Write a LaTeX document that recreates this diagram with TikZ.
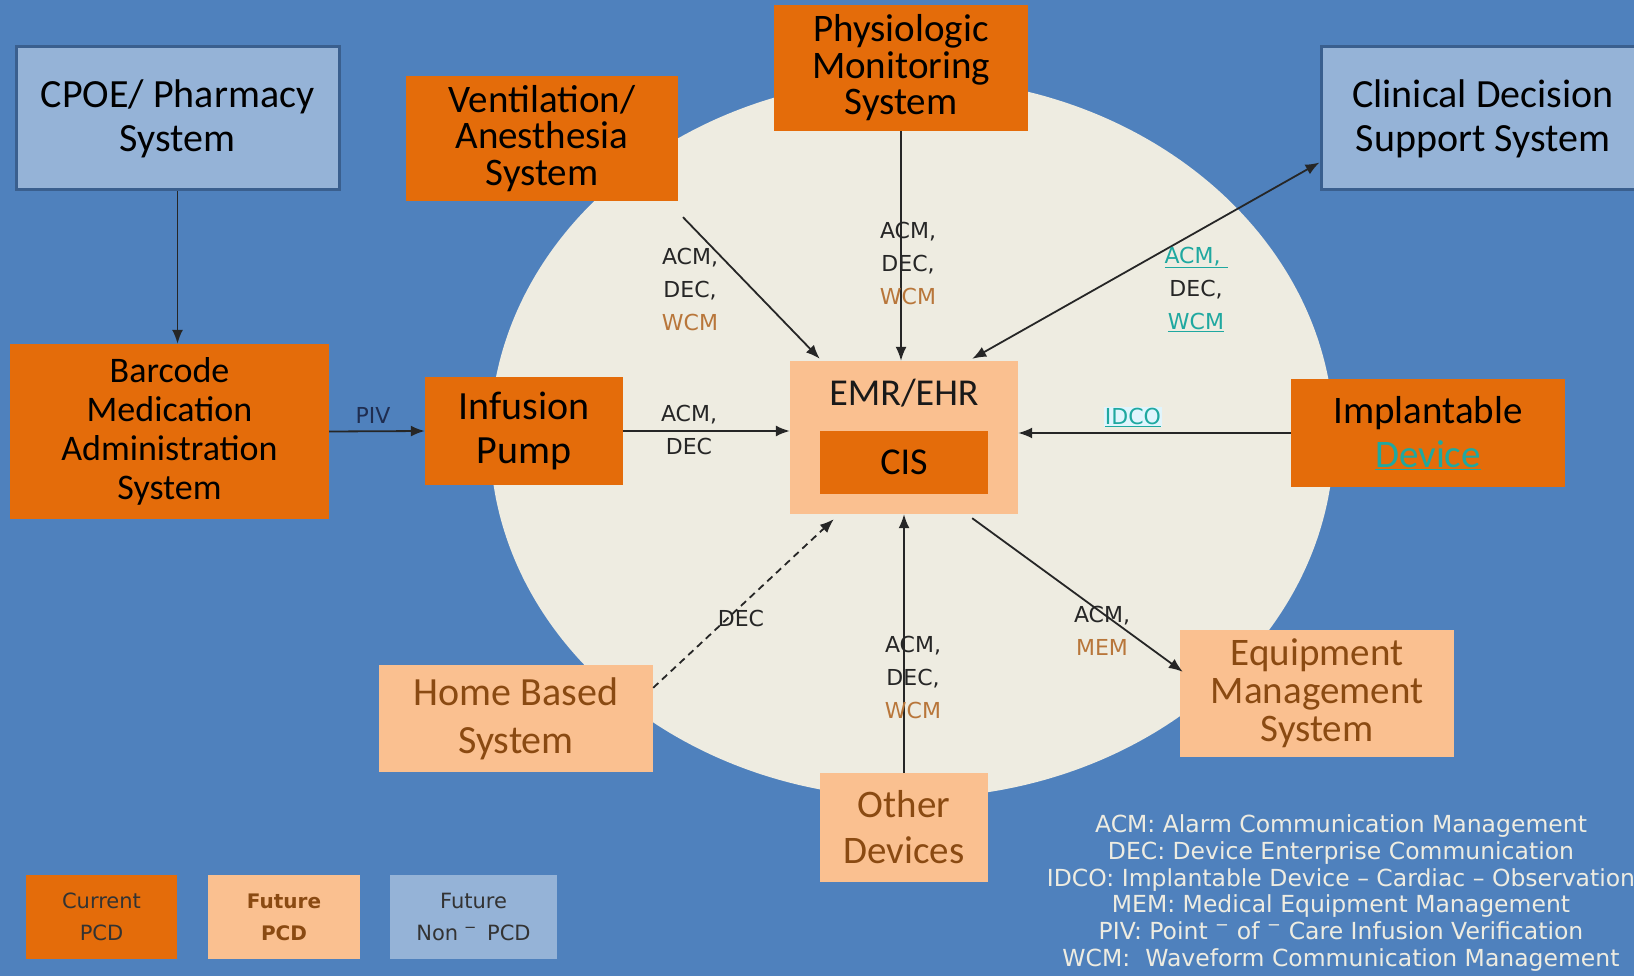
\documentclass[tikz,border=0pt]{standalone}
\usepackage{fontspec}
\setmainfont{Carlito}
\newfontfamily\lblfont{DejaVu Sans}
\usetikzlibrary{arrows.meta,calc}
\definecolor{bgblue}{HTML}{4F81BD}
\definecolor{ovalc}{HTML}{EEECE1}
\definecolor{dorange}{HTML}{E46C0A}
\definecolor{lorange}{HTML}{FAC090}
\definecolor{lblue}{HTML}{95B3D7}
\definecolor{bblue}{HTML}{3A5F8E}
\definecolor{brownt}{HTML}{8A4A12}
\definecolor{wcmc}{HTML}{B8763A}
\definecolor{tealc}{HTML}{1FA8A0}
\definecolor{navyt}{HTML}{1F2D50}
\newcommand\bxf[2]{\fontsize{#1}{#2}\selectfont}
\tikzset{
  boxbase/.style={inner sep=0pt, align=center},
  cur/.style={boxbase, fill=dorange, text=black},
  fut/.style={boxbase, fill=lorange, text=brownt},
  non/.style={boxbase, fill=lblue, draw=bblue, line width=3pt, text=black},
  sz/.style 2 args={minimum width=#1pt, minimum height=#2pt},
  conn/.style={line width=1.8pt, draw=black!85, -{Latex[length=14pt,width=11pt]}},
  elbl/.style={inner sep=0pt, align=center, font=\lblfont\bxf{22}{33}, text=black!85},
}
\begin{document}
\begin{tikzpicture}[x=1pt,y=-1pt]
\useasboundingbox (0,0) rectangle (1634,976);
\clip (0,0) rectangle (1634,976);
\fill[bgblue] (0,0) rectangle (1634,976);
\fill[ovalc] (912,438) ellipse [x radius=422, y radius=360];

% boxes
\node[non, sz={323}{143}, font=\bxf{40}{44}] (cpoe) at (177.5,118.5) {CPOE/ Pharmacy\\System};
\node[cur, sz={272}{125}, font=\bxf{39}{36.5}] (vent) at (542,138.5) {Ventilation/\\Anesthesia\\System};
\node[cur, sz={254}{126}, font=\bxf{39}{36.5}] (phys) at (901,68) {Physiologic\\Monitoring\\System};
\node[non, sz={324}{143}, font=\bxf{40}{44}] (clin) at (1483,118.5) {Clinical Decision\\Support System};
\node[cur, sz={319}{175}, font=\bxf{36}{39}] (barc) at (169.5,431.5) {Barcode\\Medication\\Administration\\System};
\node[cur, sz={198}{108}, font=\bxf{40}{44}] (inf) at (524,431) {Infusion\\Pump};
\node[fut, sz={228}{153}] (emr) at (904,437.5) {};
\node[boxbase, font=\bxf{38}{40}, text=black!90] (emrt) at (904,393) {EMR/EHR};
\node[cur, sz={168}{63}, font=\bxf{38}{40}] (cis) at (904,462.5) {CIS};
\node[cur, sz={274}{108}, font=\bxf{39}{44}] (impl) at (1428,433) {Implantable\\\textcolor{tealc}{\underline{Device}}};
\node[fut, sz={274}{107}, font=\bxf{40}{48}] (home) at (516,718.5) {Home Based\\System};
\node[fut, sz={168}{109}, font=\bxf{39}{46}] (oth) at (904,827.5) {Other\\Devices};
\node[fut, sz={274}{127}, font=\bxf{39}{38}] (equip) at (1317,693.5) {Equipment\\Management\\System};

% legend boxes
\node[cur, sz={151}{84}, font=\lblfont\bxf{21}{32}, text=black!80] (lg1) at (101.5,917) {Current\\PCD};
\node[fut, sz={152}{84}, font=\lblfont\bfseries\bxf{20}{32}] (lg2) at (284,917) {Future\\PCD};
\node[boxbase, fill=lblue, sz={167}{84}, font=\lblfont\bxf{21}{32}, text=black!80] (lg3) at (473.5,917) {Future\\Non\,\textsuperscript{\,\textminus}\,\ PCD};

% legend text
\node[inner sep=0pt, align=center, font=\lblfont\bxf{23.5}{26.8}, text=ovalc] (abbr) at (1341,893)
 {ACM: Alarm Communication Management\\
  DEC: Device Enterprise Communication\\
  IDCO: Implantable Device \textendash\ Cardiac \textendash\ Observation\\
  MEM:\ Medical Equipment Management\\
  PIV: Point \textsuperscript{\textminus}\ of \textsuperscript{\textminus}\ Care Infusion Verification\\
  WCM:\ \ Waveform Communication Management};

% connectors
\draw[conn] (cpoe.south) -- (cpoe.south |- barc.north);
\draw[conn] (barc.east) -- (inf.west);
\draw[conn] (inf.east) -- (inf.east -| emr.west);
\draw[conn] ($(vent.south)+(141,16)$) -- ($(emr.north west)+(30,-2)$);
\draw[conn] (phys.south) -- (phys.south |- emr.north);
\draw[conn, {Latex[length=14pt,width=11pt]}-{Latex[length=14pt,width=11pt]}] ($(emr.north east)+(-46,-2)$) -- ($(clin.south west)+(0,-29)$);
\draw[conn] (impl.west) -- (impl.west -| emr.east);
\draw[conn, dashed, dash pattern=on 7pt off 5pt] ($(home.north east)+(0,23)$) -- ($(emr.south west)+(44,5)$);
\draw[conn] (oth.north) -- (oth.north |- emr.south);
\draw[conn] ($(emr.south east)+(-46,4)$) -- ($(equip.north west)+(3,42)$);

% connector labels
\node[elbl, text=navyt] (lpiv) at (373,415) {PIV};
\node[elbl] (linf) at (689,430) {ACM,\\DEC};
\node[elbl] (lvent) at (690,289) {ACM,\\DEC,\\\textcolor{wcmc}{WCM}};
\node[elbl] (lphys) at (908,263) {ACM,\\DEC,\\\textcolor{wcmc}{WCM}};
\node[elbl] (lclin) at (1196,289) {\textcolor{tealc}{\underline{ACM,\ }}\\DEC,\\\textcolor{tealc}{\underline{WCM}}};
\node[elbl, fill=cyan!12, inner sep=1pt] (lidco) at (1133,417) {\textcolor{tealc}{\underline{IDCO}}};
\node[elbl] (lhome) at (741,618) {DEC};
\node[elbl] (loth) at (913,677) {ACM,\\DEC,\\\textcolor{wcmc}{WCM}};
\node[elbl] (lequip) at (1102,631) {ACM,\\\textcolor{wcmc}{MEM}};
\end{tikzpicture}
\end{document}
